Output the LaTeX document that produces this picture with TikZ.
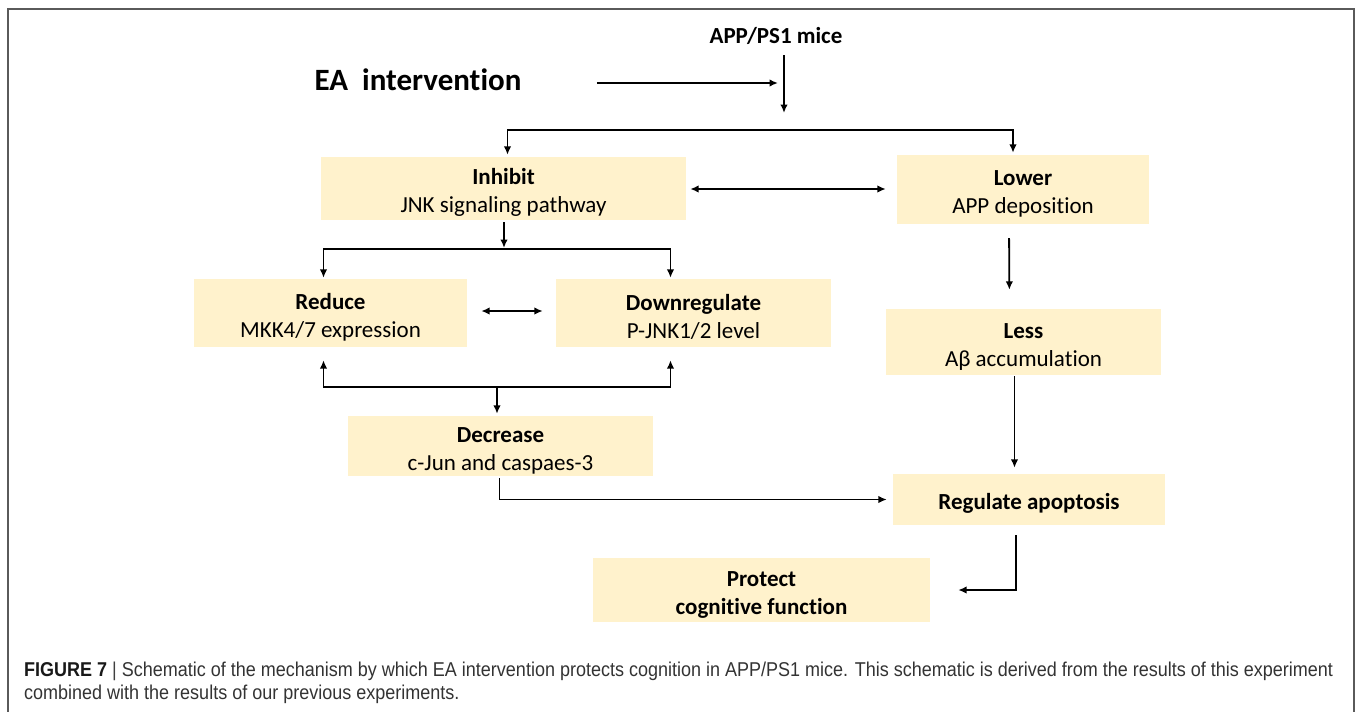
\documentclass[tikz,border=0pt]{standalone}
\usepackage{fontspec}
\setmainfont[Ligatures=CommonOff]{Carlito}
\newfontfamily\capfont[FakeStretch=0.9]{Liberation Sans}
\usepackage{tikz}
\usetikzlibrary{positioning,arrows.meta,calc}
\usepackage{xcolor}
\definecolor{boxfill}{HTML}{FFF2CC}
\definecolor{framegray}{HTML}{5A5A5A}
\tikzset{
  stepbox/.style={fill=boxfill,inner sep=0pt,align=center,font=\fontsize{23}{28}\selectfont},
  twoline/.style={stepbox,execute at begin node=\rule{0pt}{52pt}},
  oneline/.style={stepbox,execute at begin node=\rule{0pt}{23.5pt}},
  link/.style={->,line width=1.8pt},
  dlink/.style={<->,line width=1.8pt}
}

\begin{document}
\begin{tikzpicture}[x=1pt,y=-1pt,>={Latex[length=8.5pt,width=7.5pt]}]
\useasboundingbox (0,0) rectangle (1358,712);
\draw[framegray,line width=2pt] (8,760) |- (1354,9) -- (1354,760);
% top
\node[font=\fontsize{31}{34}\bfseries] (ea) at (418,80) {EA\ \ intervention};
\node[font=\fontsize{23}{26}\bfseries] (mice) at (776,36) {APP/PS1 mice};
\coordinate (eaend) at (778,83);
\coordinate (micetip) at (784,113);
\draw[link,shorten <=72pt] (ea.east |- eaend) -- (eaend);
\draw[link] (mice.south -| micetip) ++(0,7) -- (micetip);
% boxes
\node[twoline,minimum width=365pt,minimum height=63pt] (inhibit) at (503.5,188.5) {\textbf{Inhibit}\\JNK signaling pathway};
\node[twoline,minimum width=252pt,minimum height=69pt] (lower) at (1023,189.5) {\textbf{Lower}\\APP deposition};
\node[twoline,minimum width=273pt,minimum height=68pt] (reduce) at (330.5,313) {\textbf{Reduce}\\MKK4/7 expression};
\node[twoline,minimum width=275pt,minimum height=68pt] (downreg) at (693.5,313) {\textbf{Downregulate}\\P-JNK1/2 level};
\node[twoline,minimum width=275pt,minimum height=66pt] (less) at (1023.5,342) {\textbf{Less}\\Aβ accumulation};
\node[twoline,minimum width=305pt,minimum height=60pt] (decrease) at (500.5,446) {\textbf{Decrease}\\c-Jun and caspaes-3};
\node[oneline,minimum width=272pt,minimum height=51pt,font=\fontsize{23}{28}\bfseries] (regulate) at (1029,499.5) {Regulate apoptosis};
\node[twoline,minimum width=337pt,minimum height=64pt,font=\fontsize{23}{28}\bfseries] (protect) at (761.5,590) {Protect\\cognitive function};
% connectors
\draw[dlink,shorten <=2pt,shorten >=2pt] ([xshift=4pt]inhibit.north) -- ++(0,-27) -| ([xshift=-10pt]lower.north);
\draw[dlink,shorten <=4pt,shorten >=11pt] (inhibit.east |- 0,189) -- (lower.west |- 0,189);
\coordinate (jnk) at (504,249);
\coordinate (jun) at (497,387);
\draw[link,shorten <=2pt] (inhibit.south -| jnk) -- ([yshift=1pt]jnk);
\draw[dlink,shorten <=1pt,shorten >=1pt] ([xshift=-7pt]reduce.north) |- (jnk) -| ([xshift=-23pt]downreg.north);
\draw[dlink,shorten <=14pt,shorten >=13pt] (reduce.east |- 0,311) -- (downreg.west |- 0,311);
\draw[dlink,shorten <=13pt,shorten >=13pt] ([xshift=-7pt]reduce.south) |- (jun) -| ([xshift=-23pt]downreg.south);
\draw[link,shorten >=2pt] (jun) -- (decrease.north -| jun);
\draw[link,shorten <=2pt,shorten >=6pt] ([xshift=-1pt]decrease.south) |- (regulate.west);
\draw[link,shorten <=14pt,shorten >=19pt] ([xshift=-14pt]lower.south) -- ([xshift=-14pt]less.north);
\draw[link,shorten <=1pt,shorten >=6pt] ([xshift=-9pt]less.south) -- ([xshift=-9pt]less.south |- regulate.north);
\draw[link,shorten <=10pt,shorten >=28pt] ([xshift=-13pt]regulate.south) |- (protect.east);
% caption
\node[anchor=base west,inner sep=0pt,align=left,text=black!80,
  font=\capfont\fontsize{20}{23}\selectfont] (caption) at (24,699)
  {{\color{black!90}\bfseries FIGURE 7} {\color{black!75}|} Schematic of the mechanism by which EA intervention protects cognition in APP/PS1 mice. This schematic is derived from the results of this experiment\\combined with the results of our previous experiments.};
\end{tikzpicture}
\end{document}
